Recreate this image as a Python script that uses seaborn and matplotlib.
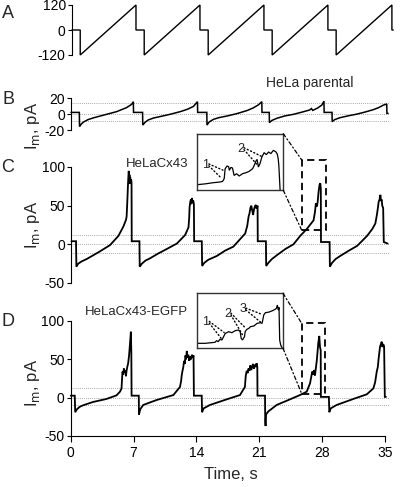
import numpy as np
import matplotlib
matplotlib.use("Agg")
import matplotlib.pyplot as plt
import seaborn as sns
from matplotlib.patches import Rectangle, ConnectionPatch

sns.set_theme(style="white")
plt.rcParams['font.family'] = ['Liberation Sans', 'DejaVu Sans']
plt.rcParams['axes.unicode_minus'] = False

# ---- data (time s, value) ----
A_protocol = [(0.0, 0), (0.9, 0), (0.9, -120), (7.0, 120), (7.0, 0), (7.9, 0), (7.9, -120),
              (14.0, 120), (14.0, 0), (14.9, 0), (14.9, -120), (21.0, 120), (21.0, 0),
              (21.9, 0), (21.9, -120), (28.0, 120), (28.0, 0), (28.9, 0), (28.9, -120),
              (35.0, 120), (35.0, 0), (35.15, 0)]

B_trace = [(0.0, 2), (0.93, 2), (0.95, -15.8), (1.15, -12.5), (1.4, -10), (1.9, -7), (2.6, -4.5),
           (3.6, -1.5), (5.1, 3), (6.2, 8), (6.75, 12), (6.95, 15.4), (6.97, 2), (7.98, 2),
           (8.0, -13.8), (8.25, -10.5), (8.6, -7.5), (9.2, -5), (9.9, -3.3), (11.0, -0.5),
           (12.2, 3), (13.0, 6), (13.65, 9.5), (14.1, 15.4), (14.12, 2), (15.14, 2),
           (15.16, -13.8), (15.4, -10), (15.88, -6.7), (16.5, -4.5), (17.4, -2.5), (18.5, 0.5),
           (19.6, 4.2), (20.3, 7.5), (20.9, 11.5), (21.27, 15.4), (21.29, 2), (22.1, 2),
           (22.12, -10.8), (22.4, -8), (22.94, -5.4), (23.8, -2.5), (24.8, -0.4), (25.8, 2.5),
           (26.6, 5), (26.8, 6.8), (26.95, 4.5), (27.5, 7.5), (27.95, 11), (28.2, 16),
           (28.22, 2), (29.1, 2), (29.12, -9.6), (29.4, -7), (30.0, -4.6), (30.9, -2.3),
           (31.85, -0.2), (32.8, 2.5), (33.7, 5.4), (34.3, 8), (34.8, 11), (35.2, 12.5),
           (35.22, 0.8), (35.35, 0.8)]

C_trace = [(0.05, 4), (0.56, 4), (0.6, -29), (0.8, -25), (1.2, -22), (1.75, -19), (2.5, -14),
           (3.24, -9), (4.35, -1), (5.28, 10.8), (5.84, 23), (6.14, 32), (6.2, 36), (6.25, 48),
           (6.3, 62), (6.36, 79), (6.4, 88), (6.44, 95), (6.48, 80), (6.52, 90), (6.56, 78),
           (6.6, 87), (6.64, 82), (6.7, 84), (6.75, 80), (6.77, 4), (7.63, 4),
           (7.66, -29), (7.9, -25), (8.3, -21), (8.82, -18), (9.7, -12), (10.68, -6),
           (11.8, 1), (12.72, 12), (13.1, 22), (13.18, 35), (13.22, 48), (13.3, 55),
           (13.36, 58), (13.42, 52), (13.48, 60), (13.55, 54), (13.62, 57), (13.7, 52),
           (13.73, 4), (14.58, 4),
           (14.62, -28), (14.85, -24), (15.3, -20), (16.26, -15), (17.2, -8), (18.1, -3),
           (19.42, 14), (19.65, 24), (19.8, 36), (19.9, 40), (20.0, 47), (20.1, 50),
           (20.2, 44), (20.3, 38), (20.4, 45), (20.5, 49), (20.6, 51), (20.7, 46),
           (20.8, 50), (20.82, 4), (21.73, 4),
           (21.76, -28), (22.0, -24), (22.4, -19), (22.96, -14), (23.9, -6), (24.8, 0),
           (25.56, 11), (26.3, 20), (27.04, 31), (27.2, 42), (27.3, 53), (27.42, 49),
           (27.5, 55), (27.6, 68), (27.71, 77), (27.79, 79), (27.85, 72), (27.87, 3), (28.83, 3),
           (28.86, -29), (29.1, -24), (29.5, -19), (30.02, -15), (31.0, -8), (31.9, -2),
           (33.0, 10.8), (33.6, 20), (33.93, 27), (34.1, 38), (34.2, 46), (34.3, 55),
           (34.4, 58), (34.49, 64), (34.56, 56), (34.63, 58), (34.7, 50), (34.8, 47),
           (34.87, 3), (35.3, 1)]

D_trace = [(0.0, 2.6), (0.45, 2.6), (0.5, -19), (0.7, -15), (1.0, -12), (1.37, -10),
           (2.49, -5.6), (3.98, -1.7), (5.1, 3), (5.5, 8), (5.66, 12), (5.72, 25), (5.77, 34),
           (5.85, 30), (5.92, 38), (6.0, 33), (6.08, 36), (6.15, 28), (6.22, 35), (6.3, 40),
           (6.4, 45), (6.5, 55), (6.6, 70), (6.7, 86), (6.75, 60), (6.78, 2.6), (7.58, 2.6),
           (7.6, -22), (7.75, -15), (8.08, -9.5), (9.58, -3), (11.43, 3.4), (12.17, 14),
           (12.3, 22), (12.36, 29), (12.45, 35), (12.54, 40), (12.62, 48), (12.7, 44),
           (12.78, 55), (12.85, 50), (12.93, 61), (13.0, 52), (13.1, 56), (13.2, 48),
           (13.3, 54), (13.4, 50), (13.5, 56), (13.6, 52), (13.68, 55), (13.72, 2.6), (14.59, 2.6),
           (14.63, -19), (14.8, -14), (15.51, -9.5), (17.37, -2.2), (18.85, 3.4), (19.4, 14),
           (19.45, 22), (19.5, 29), (19.6, 35), (19.7, 32), (19.8, 38), (19.9, 35), (20.0, 42),
           (20.1, 36), (20.2, 40), (20.3, 44), (20.4, 38), (20.5, 43), (20.6, 40), (20.7, 45),
           (20.78, 40), (20.8, 2.6), (21.64, 2.6),
           (21.66, -30), (21.7, -37), (21.75, -22), (22.0, -18), (22.94, -9.5), (24.42, -2.2),
           (25.53, 3.4), (26.28, 7.8), (26.65, 18.6), (26.8, 28), (26.9, 34), (27.0, 30),
           (27.1, 36), (27.2, 29), (27.4, 48), (27.57, 71), (27.68, 80.5), (27.76, 66),
           (27.84, 62), (27.86, 1), (28.75, 1),
           (28.8, -19), (28.95, -14), (29.62, -9.5), (31.47, -1.7), (32.96, 4.3), (33.7, 12),
           (33.9, 20), (34.08, 34), (34.2, 40), (34.3, 52), (34.45, 66.7), (34.55, 70),
           (34.63, 73), (34.72, 66), (34.8, 70), (34.9, 67), (34.98, 1), (35.1, 1)]

# zoomed windows (t0, t1, i0, i1)
C_zoom = (25.72, 28.43, 18.2, 109.1)
D_zoom = (25.72, 28.32, 5.2, 97.0)

C_inset = [(25.72, 27.1), (26.01, 28.7), (26.22, 30.3), (26.43, 31.4), (26.53, 32.5),
           (26.58, 36.8), (26.61, 52.9), (26.67, 57.2), (26.72, 56.1), (26.74, 50.2),
           (26.79, 55), (26.84, 53.9), (26.89, 42.1), (26.97, 44.8), (27.05, 41.1),
           (27.15, 44.8), (27.26, 46.4), (27.36, 48.6), (27.47, 52.9), (27.52, 58.2),
           (27.57, 64.7), (27.61, 67.9), (27.65, 55.6), (27.7, 61), (27.76, 71.7),
           (27.83, 78.7), (27.9, 75.5), (27.97, 79.8), (28.04, 77.1), (28.12, 82.4),
           (28.2, 79.8), (28.24, 76.6), (28.27, 69.1), (28.29, 58.4), (28.33, 18.2)]

D_inset = [(25.72, 13.5), (25.97, 13.5), (26.17, 14.6), (26.27, 15.2), (26.32, 18),
           (26.37, 16.3), (26.42, 20.2), (26.48, 19.1), (26.53, 24.6), (26.58, 30.2),
           (26.63, 31.3), (26.68, 32.9), (26.78, 31.3), (26.88, 34.6), (26.98, 35.7),
           (27.03, 32.9), (27.06, 21.8), (27.1, 19.1), (27.16, 24.6), (27.18, 32.9),
           (27.23, 36.8), (27.29, 38.5), (27.34, 41.3), (27.44, 42.4), (27.54, 46.8),
           (27.64, 47.9), (27.69, 46.8), (27.74, 60.7), (27.79, 64.6), (27.9, 65.7),
           (28.0, 67.9), (28.08, 70.1), (28.12, 71.8), (28.15, 77.4), (28.18, 69),
           (28.2, 73.5), (28.22, 19.1), (28.25, 10.7), (28.3, 5.2)]

# event labels: (label, label position, two target points on the inset trace)
C_events = [('1', (26.0, 59), [(26.58, 49.7), (26.51, 36.8)]),
            ('2', (27.1, 85), [(27.79, 71.7), (27.63, 58.2)])]
D_events = [('1', (26.0, 48.6), [(26.58, 30.2), (26.48, 20.2)]),
            ('2', (26.65, 62.4), [(27.23, 36.8), (27.14, 24.0)]),
            ('3', (27.1, 70.8), [(27.74, 60.7), (27.69, 46.8)])]

time_ticks = [0, 7, 14, 21, 28, 35]

# ---- figure ----
W, H = 401, 487
fig = plt.figure(figsize=(W / 100, H / 100), dpi=100)


def px_axes(left, top, right, bottom):
    return fig.add_axes([left / W, 1 - bottom / H, (right - left) / W, (bottom - top) / H])


def trace(ax, pairs, lw):
    t, v = np.array(pairs).T
    sns.lineplot(x=t, y=v, sort=False, estimator=None, color='black', lw=lw, ax=ax)
    ax.lines[-1].set_clip_on(False)
    ax.lines[-1].set_solid_joinstyle('miter')


def style(ax, ylim, yticks, xaxis=False):
    ax.set_xlim(0, 35.6)
    ax.set_ylim(*ylim)
    ax.set_facecolor('none')
    for s in ['top', 'right']:
        ax.spines[s].set_visible(False)
    ax.spines['left'].set_color('black')
    ax.spines['left'].set_linewidth(0.8)
    ax.spines['left'].set_bounds(yticks[0], yticks[-1])
    ax.set_yticks(yticks)
    ax.set_yticklabels([str(v) for v in yticks])
    ax.tick_params(axis='y', left=True, direction='out', length=3, width=0.8, pad=1.5,
                   labelsize=10, colors='black')
    ax.set_xlabel('')
    ax.set_ylabel('')
    if xaxis:
        ax.spines['bottom'].set_color('black')
        ax.spines['bottom'].set_linewidth(0.8)
        ax.spines['bottom'].set_bounds(0, 35)
        ax.set_xticks(time_ticks)
        ax.set_xticklabels([str(v) for v in time_ticks])
        ax.tick_params(axis='x', bottom=True, direction='out', length=4, width=0.8, pad=3.5,
                       labelsize=10, colors='black')
    else:
        ax.spines['bottom'].set_visible(False)
        ax.set_xticks([])


def ref_lines(ax, levels):
    for y in levels:
        ax.axhline(y, color='#8a8a8a', lw=0.6, ls=(0, (1, 1.5)), zorder=0)


def inset(ax, box, zoom, pairs, events):
    t0, t1, i0, i1 = zoom
    ins = px_axes(*box)
    trace(ins, pairs, 0.9)
    ins.lines[-1].set_clip_on(True)
    ins.set_xlim(t0, t1)
    ins.set_ylim(i0, i1)
    ins.set_xticks([])
    ins.set_yticks([])
    ins.set_xlabel('')
    ins.set_ylabel('')
    ins.set_facecolor('white')
    for s in ins.spines.values():
        s.set_visible(True)
        s.set_color('#333333')
        s.set_linewidth(1.0)
    for lab, pos, targets in events:
        ins.text(pos[0], pos[1], lab, fontsize=9, ha='center', va='center')
        for k, tg in enumerate(targets):
            ins.annotate('', xy=tg, xytext=(pos[0] + 0.1, pos[1] + (1.5 - 3 * k)),
                         arrowprops=dict(arrowstyle='-', ls=(0, (0.8, 1.8)), lw=1.0,
                                         color='black', shrinkA=0, shrinkB=1))
    ax.add_patch(Rectangle((t0, i0), t1 - t0, i1 - i0, fill=False, ec='black', lw=1.3,
                           ls=(0, (4, 2.5)), clip_on=False))
    for yi in (i1, i0):
        con = ConnectionPatch(xyA=(t1, yi), coordsA=ins.transData, xyB=(t0, yi),
                              coordsB=ax.transData, color='black', lw=0.9,
                              ls=(0, (3, 2, 1, 2)))
        fig.add_artist(con)


# A: voltage protocol
axA = px_axes(72, 5, 72 + 35.6 * 9.14, 55)
trace(axA, A_protocol, 1.0)
style(axA, (-120, 120), [-120, 0, 120])

# B: HeLa parental
axB = px_axes(71, 98, 71 + 35.6 * 8.97, 130)
ref_lines(axB, [13.5, 0, -8.5])
trace(axB, B_trace, 1.1)
style(axB, (-20, 20), [-20, 0, 20])
axB.text(26.6, 38.8, 'HeLa parental', fontsize=10, ha='center', va='center', clip_on=False)

# C: HeLaCx43
axC = px_axes(71, 167, 71 + 35.6 * 8.97, 283)
ref_lines(axC, [12, 0, -11])
trace(axC, C_trace, 1.3)
style(axC, (-50, 100), [-50, 0, 50, 100])
axC.text(9.64, 104, 'HeLaCx43', fontsize=9.5, ha='center', va='center')
inset(axC, (196.7, 133.7, 283.3, 190.3), C_zoom, C_inset, C_events)

# D: HeLaCx43-EGFP
axD = px_axes(70.7, 321, 70.7 + 35.6 * 8.98, 436)
ref_lines(axD, [13, 0, -10])
trace(axD, D_trace, 1.3)
style(axD, (-50, 100), [-50, 0, 50, 100], xaxis=True)
axD.set_xlabel('Time, s', fontsize=12, labelpad=5)
axD.text(7.3, 111.7, 'HeLaCx43-EGFP', fontsize=9.5, ha='center', va='center')
inset(axD, (196.7, 293.3, 283.0, 348.3), D_zoom, D_inset, D_events)

# panel letters and y labels
for lab, y in [('A', 14), ('B', 99), ('C', 168), ('D', 321)]:
    fig.text(8 / W, 1 - y / H, lab, fontsize=13, ha='center', va='center')
for y in [126, 225, 383]:
    fig.text(32 / W, 1 - y / H, r'I$_{\rm m}$, pA', fontsize=12, rotation=90,
             ha='center', va='center')

fig.savefig('out.png', dpi=100)
